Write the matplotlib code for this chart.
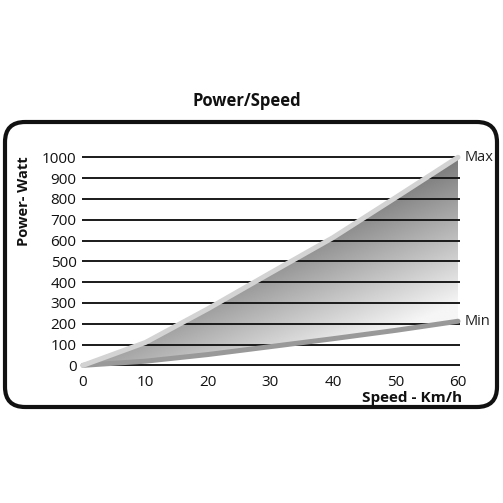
import matplotlib
matplotlib.use('Agg')
import matplotlib.pyplot as plt
import numpy as np
from matplotlib.patches import FancyBboxPatch, Polygon

# values
speed = [0, 10, 20, 30, 40, 50, 60]
max_w = [0, 110, 272, 444, 614, 806, 1000]
min_w = [0, 20, 52, 90, 128, 168, 212]
yticks = [0, 100, 200, 300, 400, 500, 600, 700, 800, 900, 1000]
xticks = [0, 10, 20, 30, 40, 50, 60]

plt.rcParams['font.family'] = ['Open Sans', 'DejaVu Sans']

W = 503.0
fig = plt.figure(figsize=(5.03, 5.03), dpi=100)
ax = fig.add_axes([78/W, 1-372/W, (462-78)/W, (372-150)/W])
ax.set_xlim(-0.8, 60.64)
ax.set_ylim(-32, 1035)
for s in ax.spines.values():
    s.set_visible(False)

# gradient fill between the two curves
poly = Polygon(list(zip(speed, max_w)) + list(zip(speed[::-1], min_w[::-1])),
               closed=True, facecolor='none', edgecolor='none')
ax.add_patch(poly)
gx, gy = np.meshgrid(np.linspace(0, 60, 300), np.linspace(0, 1000, 300))
shade = np.clip(160 + 2.294*gx - 0.1768*gy, 0, 246)
im = ax.imshow(shade, extent=[0, 60, 0, 1000], origin='lower', cmap='gray',
               vmin=0, vmax=255, aspect='auto', zorder=1, interpolation='bilinear')
im.set_clip_path(poly)

ax.hlines(yticks, -0.2, 60.3, color='#1a1a1a', lw=1.4, zorder=2)
ax.plot(speed, min_w, color='#999999', lw=3.6, zorder=3, solid_capstyle='round')
ax.plot(speed, max_w, color='#d3d3d3', lw=3.6, zorder=4, solid_capstyle='round')

ax.text(61.0, max_w[-1], 'Max', fontsize=10.5, va='center', ha='left', color='#222222')
ax.text(61.0, min_w[-1], 'Min', fontsize=10.5, va='center', ha='left', color='#222222')

ax.set_xticks(xticks)
ax.set_yticks(yticks)
ax.tick_params(length=0, labelsize=11, labelcolor='#111111')
ax.tick_params(axis='y', pad=1.0)
ax.tick_params(axis='x', pad=2.0)

fig.text(247/W, 1-101/W, 'Power/Speed', fontsize=12, fontweight='bold',
         ha='center', va='center', color='#111111')
fig.text(24/W, 1-201/W, 'Power- Watt', fontsize=10.5, fontweight='bold',
         rotation=90, ha='center', va='center', color='#111111')
fig.text(462/W, 1-398/W, 'Speed - Km/h', fontsize=11, fontweight='bold',
         ha='right', va='center', color='#111111')

box = FancyBboxPatch((5/W, 1-407/W), 492/W, 285/W,
                     boxstyle='round,pad=0,rounding_size=0.04',
                     transform=fig.transFigure, fill=False,
                     edgecolor='#111111', lw=3.0)
fig.patches.append(box)

fig.savefig('out.png', dpi=100)
